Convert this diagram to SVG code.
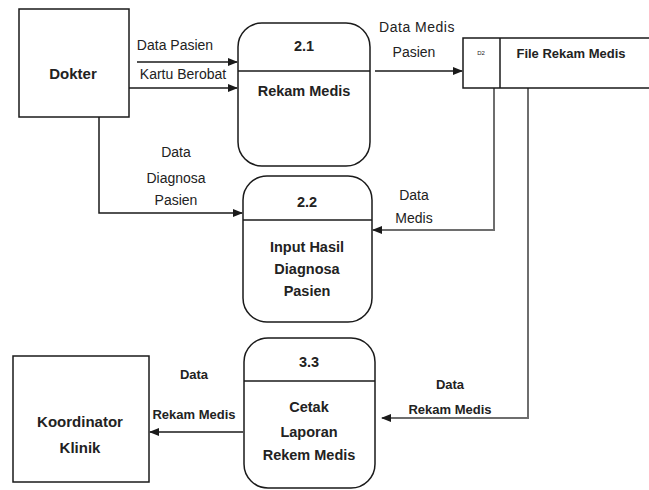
<svg xmlns="http://www.w3.org/2000/svg" width="649" height="490" viewBox="0 0 649 490">
  <style>
    .box { fill: #ffffff; stroke: #1a1a1a; stroke-width: 1.5; }
    .proc { fill: #ffffff; stroke: #1a1a1a; stroke-width: 1.5; }
    .line { fill: none; stroke: #1a1a1a; stroke-width: 1.5; }
    .gline { fill: none; stroke: #6e6e6e; stroke-width: 2; }
    .t { font-family: "Liberation Sans", Arial, sans-serif; font-size: 14px; fill: #222; text-anchor: middle; }
    .b { font-weight: bold; }
    .lb { font-weight: bold; font-size: 13px; }
    .node { font-weight: bold; font-size: 14.5px; }
    .big { font-weight: bold; font-size: 15px; }
  </style>
  <defs>
    <marker id="arrow" markerWidth="10" markerHeight="8" refX="9" refY="4" orient="auto" markerUnits="userSpaceOnUse">
      <path d="M0,0 L10,4 L0,8 Z" fill="#1a1a1a"/>
    </marker>
  </defs>
  <rect width="649" height="490" fill="#ffffff"/>

  <!-- connectors -->
  <g id="connectors">
    <line class="line" x1="137" y1="62" x2="237" y2="62" marker-end="url(#arrow)"/>
    <line class="line" x1="129" y1="88" x2="237" y2="88" marker-end="url(#arrow)"/>
    <polyline class="line" points="99,117 99,213 242,213" marker-end="url(#arrow)"/>
    <line class="line" x1="375" y1="71" x2="462" y2="71" marker-end="url(#arrow)"/>
    <polyline class="gline" points="494,88 494,230 373,230" marker-end="url(#arrow)"/>
    <polyline class="gline" points="528,88 528,418 382,418" marker-end="url(#arrow)"/>
    <line class="line" x1="243" y1="432" x2="150" y2="432" marker-end="url(#arrow)"/>

    <text class="t" x="175" y="50">Data Pasien</text>
    <text class="t" x="183" y="79">Kartu Berobat</text>
    <text class="t" x="176" y="157">Data</text>
    <text class="t" x="176" y="183">Diagnosa</text>
    <text class="t" x="176" y="205">Pasien</text>
    <text class="t" x="417" y="32" style="letter-spacing:0.5px">Data  Medis</text>
    <text class="t" x="414" y="57">Pasien</text>
    <text class="t" x="414" y="200">Data</text>
    <text class="t" x="414" y="223">Medis</text>
    <text class="t lb" x="450" y="389">Data</text>
    <text class="t lb" x="450" y="414">Rekam Medis</text>
    <text class="t lb" x="194" y="379">Data</text>
    <text class="t lb" x="194" y="419">Rekam Medis</text>
  </g>

  <g id="dokter">
    <rect class="box" x="19" y="9" width="110" height="108"/>
    <text class="t big" x="73" y="79">Dokter</text>
  </g>

  <g id="proc-2-1">
    <rect class="proc" x="238" y="23" width="132" height="143" rx="24"/>
    <line class="line" x1="238" y1="71" x2="370" y2="71"/>
    <text class="t node" x="304" y="51">2.1</text>
    <text class="t node" x="304" y="96">Rekam Medis</text>
  </g>

  <g id="store-d2">
    <polyline class="line" points="649,38 463,38 463,88 649,88"/>
    <line class="line" x1="500" y1="38" x2="500" y2="88"/>
    <text class="t" x="481" y="55" style="font-size:6px">D2</text>
    <text class="t lb" x="571" y="58">File Rekam Medis</text>
  </g>

  <g id="proc-2-2">
    <rect class="proc" x="243" y="176" width="129" height="146" rx="24"/>
    <line class="line" x1="243" y1="220" x2="372" y2="220"/>
    <text class="t node" x="307" y="207">2.2</text>
    <text class="t node" x="307" y="252">Input Hasil</text>
    <text class="t node" x="307" y="274">Diagnosa</text>
    <text class="t node" x="307" y="296">Pasien</text>
  </g>

  <g id="proc-3-3">
    <rect class="proc" x="244" y="338" width="131" height="150" rx="24"/>
    <line class="line" x1="244" y1="381" x2="375" y2="381"/>
    <text class="t node" x="309" y="367">3.3</text>
    <text class="t node" x="309" y="412">Cetak</text>
    <text class="t node" x="309" y="437">Laporan</text>
    <text class="t node" x="309" y="460">Rekem Medis</text>
  </g>

  <g id="koordinator">
    <rect class="box" x="13" y="356" width="136" height="126"/>
    <text class="t big" x="80" y="427">Koordinator</text>
    <text class="t big" x="80" y="453">Klinik</text>
  </g>
</svg>
